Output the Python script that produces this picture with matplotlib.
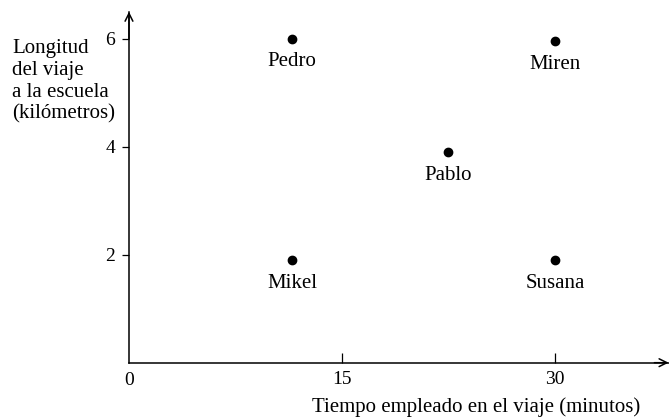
import matplotlib
matplotlib.use("Agg")
import matplotlib.pyplot as plt

# travel time (minutes) and distance to school (km)
names = ["Pedro", "Miren", "Pablo", "Mikel", "Susana"]
minutes = [11.5, 30.0, 22.5, 11.5, 30.0]
km = [6.0, 5.95, 3.9, 1.9, 1.9]

xticks = [15, 30]
yticks = [2, 4, 6]
ylabel_lines = ["Longitud", "del viaje", "a la escuela", "(kilómetros)"]

plt.rcParams["font.family"] = ["Liberation Serif", "DejaVu Serif"]

fig = plt.figure(figsize=(6.69, 4.18), dpi=100)
ax = fig.add_axes([0.1928, 0.1323, 0.8066, 0.8397])
ax.set_xlim(0, 38)
ax.set_ylim(0, 6.5)

for side in ("top", "right"):
    ax.spines[side].set_visible(False)
for side in ("left", "bottom"):
    ax.spines[side].set_linewidth(1.1)
    ax.spines[side].set_color("black")

ax.set_xticks(xticks)
ax.set_yticks(yticks)
ax.tick_params(axis="x", direction="in", length=7, width=0.9, pad=6, labelsize=14)
ax.tick_params(axis="y", direction="out", length=5, width=0.9, pad=5, labelsize=14)

# axis arrows
ax.annotate("", xy=(0, 6.5), xytext=(0, 6.0), annotation_clip=False,
            arrowprops=dict(arrowstyle="->", lw=1.1, color="black",
                            mutation_scale=14, shrinkA=0, shrinkB=0))
ax.annotate("", xy=(38, 0), xytext=(37, 0), annotation_clip=False,
            arrowprops=dict(arrowstyle="->", lw=1.1, color="black",
                            mutation_scale=14, shrinkA=0, shrinkB=0))

# origin label
ax.text(0, -0.33, "0", ha="center", va="center", fontsize=14)

ax.plot(minutes, km, "o", color="black", markersize=6, clip_on=False)
for name, x, y in zip(names, minutes, km):
    ax.annotate(name, (x, y), xytext=(0, -16.5), textcoords="offset points",
                ha="center", va="center", fontsize=15)

# y label as separate lines, one baseline every ~21.7 px
for i, line in enumerate(ylabel_lines):
    fig.text(12 / 669, 1 - (53.5 + 21.7 * i) / 418, line,
             ha="left", va="baseline", fontsize=15)

fig.text(476 / 669, 1 - 407 / 418,
         "Tiempo empleado en el viaje (minutos)",
         ha="center", va="center", fontsize=15)

fig.savefig("out.png", dpi=100)
